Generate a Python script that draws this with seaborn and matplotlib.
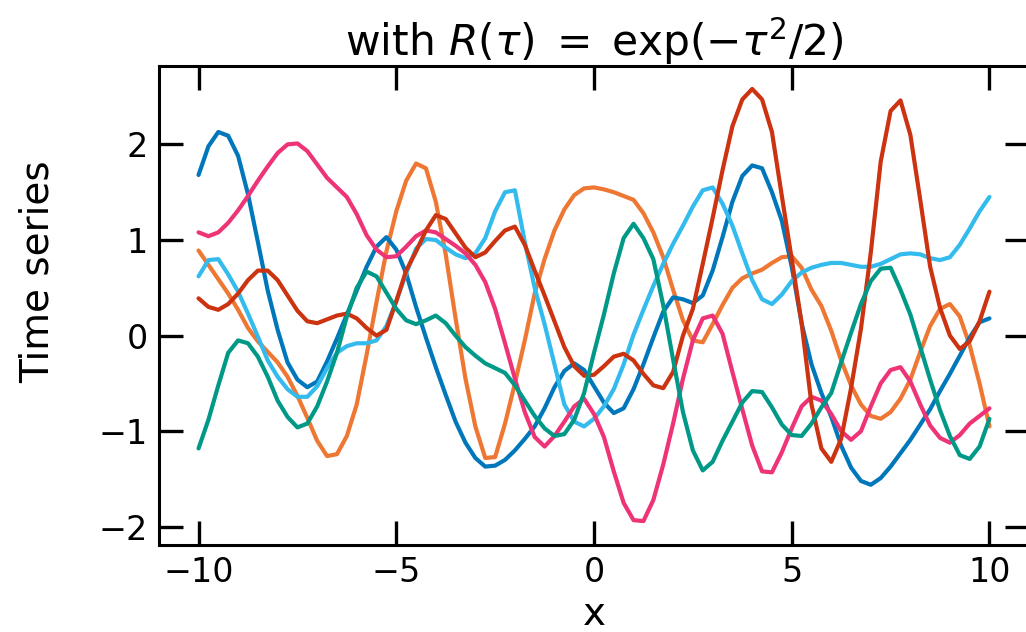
import numpy as np
import pandas as pd
import matplotlib
matplotlib.use("Agg")
import matplotlib.pyplot as plt
import seaborn as sns

# sample positions (step 0.25 from -10 to 10)
x = np.arange(-10, 10.001, 0.25)

orange = [0.89, 0.74, 0.59, 0.44, 0.27, 0.08, -0.06, -0.17, -0.28, -0.43, -0.63, -0.86, -1.10, -1.26, -1.24, -1.05,
          -0.72, -0.20, 0.35, 0.88, 1.30, 1.62, 1.80, 1.75, 1.40, 0.85, 0.18, -0.45, -0.95, -1.28, -1.27, -0.92,
          -0.50, -0.05, 0.44, 0.80, 1.10, 1.32, 1.47, 1.54, 1.55, 1.53, 1.50, 1.46, 1.42, 1.28, 1.08, 0.82,
          0.48, 0.16, -0.05, -0.07, 0.12, 0.32, 0.50, 0.60, 0.65, 0.69, 0.76, 0.82, 0.83, 0.71, 0.48, 0.31,
          0.05, -0.26, -0.52, -0.72, -0.84, -0.87, -0.80, -0.66, -0.46, -0.17, 0.10, 0.28, 0.33, 0.20, -0.10, -0.50,
          -0.95]
blue = [1.68, 1.98, 2.13, 2.09, 1.88, 1.48, 0.98, 0.47, 0.06, -0.28, -0.46, -0.54, -0.48, -0.27, -0.03, 0.22,
        0.47, 0.72, 0.93, 1.03, 0.90, 0.65, 0.30, -0.02, -0.33, -0.62, -0.90, -1.12, -1.28, -1.37, -1.36, -1.30,
        -1.20, -1.08, -0.95, -0.76, -0.54, -0.37, -0.29, -0.36, -0.53, -0.70, -0.81, -0.76, -0.56, -0.30, -0.02, 0.25,
        0.40, 0.38, 0.34, 0.42, 0.68, 1.03, 1.40, 1.67, 1.78, 1.75, 1.50, 1.20, 0.72, 0.13, -0.30, -0.60,
        -0.85, -1.15, -1.38, -1.52, -1.56, -1.49, -1.37, -1.23, -1.09, -0.93, -0.77, -0.58, -0.40, -0.21, -0.02, 0.14,
        0.18]
cyan = [0.62, 0.79, 0.80, 0.64, 0.46, 0.23, -0.01, -0.26, -0.43, -0.56, -0.64, -0.64, -0.53, -0.34, -0.18, -0.11,
        -0.08, -0.08, -0.05, 0.10, 0.36, 0.65, 0.91, 1.01, 1.00, 0.92, 0.85, 0.81, 0.86, 1.02, 1.30, 1.50,
        1.52, 0.98, 0.50, 0.12, -0.30, -0.72, -0.90, -0.95, -0.87, -0.74, -0.56, -0.30, 0.01, 0.27, 0.52, 0.75,
        0.96, 1.15, 1.35, 1.52, 1.55, 1.38, 1.15, 0.86, 0.58, 0.38, 0.33, 0.43, 0.57, 0.66, 0.71, 0.74,
        0.76, 0.76, 0.74, 0.72, 0.72, 0.75, 0.80, 0.85, 0.86, 0.85, 0.81, 0.79, 0.82, 0.95, 1.12, 1.30,
        1.45]
pink = [1.08, 1.04, 1.08, 1.18, 1.31, 1.46, 1.62, 1.77, 1.91, 2.00, 2.01, 1.93, 1.79, 1.65, 1.55, 1.45,
        1.27, 1.05, 0.90, 0.82, 0.83, 0.93, 1.04, 1.10, 1.08, 1.01, 0.94, 0.86, 0.74, 0.56, 0.28, -0.08,
        -0.45, -0.80, -1.06, -1.16, -1.05, -0.90, -0.74, -0.66, -0.82, -1.06, -1.42, -1.75, -1.93, -1.94, -1.72, -1.35,
        -0.92, -0.45, -0.05, 0.18, 0.21, 0.02, -0.38, -0.77, -1.15, -1.42, -1.43, -1.22, -0.97, -0.74, -0.64, -0.68,
        -0.82, -1.00, -1.09, -1.00, -0.74, -0.50, -0.36, -0.33, -0.48, -0.72, -0.94, -1.07, -1.12, -1.04, -0.92, -0.84,
        -0.76]
red = [0.39, 0.30, 0.27, 0.33, 0.44, 0.58, 0.68, 0.68, 0.58, 0.42, 0.26, 0.15, 0.13, 0.17, 0.21, 0.23,
       0.18, 0.08, 0.00, 0.06, 0.36, 0.68, 0.88, 1.10, 1.26, 1.22, 1.07, 0.92, 0.82, 0.87, 0.99, 1.10,
       1.14, 0.95, 0.68, 0.42, 0.15, -0.12, -0.32, -0.42, -0.41, -0.32, -0.22, -0.19, -0.26, -0.40, -0.52, -0.55,
       -0.38, 0.00, 0.28, 0.75, 1.23, 1.73, 2.19, 2.47, 2.58, 2.47, 2.13, 1.46, 0.80, 0.13, -0.72, -1.18,
       -1.32, -1.08, -0.55, 0.07, 0.87, 1.82, 2.35, 2.46, 2.10, 1.42, 0.72, 0.29, 0.00, -0.14, -0.06, 0.15,
       0.46]
teal = [-1.18, -0.88, -0.52, -0.18, -0.05, -0.08, -0.22, -0.43, -0.68, -0.85, -0.96, -0.92, -0.74, -0.48, -0.18, 0.20,
        0.50, 0.67, 0.62, 0.45, 0.28, 0.16, 0.12, 0.16, 0.21, 0.13, 0.00, -0.12, -0.21, -0.29, -0.34, -0.39,
        -0.52, -0.68, -0.84, -0.97, -1.05, -1.03, -0.88, -0.60, -0.18, 0.22, 0.65, 1.02, 1.17, 1.02, 0.80, 0.32,
        -0.25, -0.80, -1.20, -1.41, -1.32, -1.10, -0.90, -0.70, -0.58, -0.59, -0.75, -0.93, -1.04, -1.05, -0.92, -0.75,
        -0.60, -0.28, 0.03, 0.33, 0.57, 0.70, 0.71, 0.48, 0.22, -0.12, -0.46, -0.78, -1.05, -1.25, -1.29, -1.16,
        -0.87]

names = ["orange", "blue", "cyan", "pink", "red", "teal"]
colors = ["#EE7733", "#0077BB", "#33BBEE", "#EE3377", "#CC3311", "#009988"]

frames = []
for name, vals in zip(names, [orange, blue, cyan, pink, red, teal]):
    frames.append(pd.DataFrame({"x": x, "y": vals, "series": name}))
df = pd.concat(frames, ignore_index=True)

sns.set_style("ticks")
plt.rcParams["font.family"] = ["DejaVu Sans"]
plt.rcParams["mathtext.fontset"] = "dejavusans"
for key in ["text.color", "axes.labelcolor", "xtick.color", "ytick.color", "axes.edgecolor"]:
    plt.rcParams[key] = "black"

fig = plt.figure(figsize=(10.26, 6.32), dpi=100)
ax = fig.add_axes([159 / 1026, 87 / 632, 870 / 1026, 479 / 632])

sns.lineplot(data=df, x="x", y="y", hue="series", palette=dict(zip(names, colors)),
             legend=False, ax=ax, sort=False)
for line in ax.get_lines():
    line.set_linewidth(3.0)
    line.set_solid_joinstyle("round")
    line.set_solid_capstyle("round")

ax.set_xlim(-11, 11)
ax.set_ylim(-2.19, 2.82)
ax.set_xticks([-10, -5, 0, 5, 10])
ax.set_yticks([-2, -1, 0, 1, 2])
ax.tick_params(which="major", direction="in", length=17, width=2.4, labelsize=24,
               top=True, right=True, pad=8)
ax.minorticks_off()
for sp in ax.spines.values():
    sp.set_linewidth(2.2)

ax.set_title(r"with $R(\tau)\;=\;\exp(-\tau^2/2)$", fontsize=30.5, pad=7)
ax.set_xlabel("x", fontsize=28, labelpad=4)
ax.set_ylabel("Time series", fontsize=28)
ax.yaxis.set_label_coords(-0.118, 0.57)

fig.savefig("out.png", dpi=100)
